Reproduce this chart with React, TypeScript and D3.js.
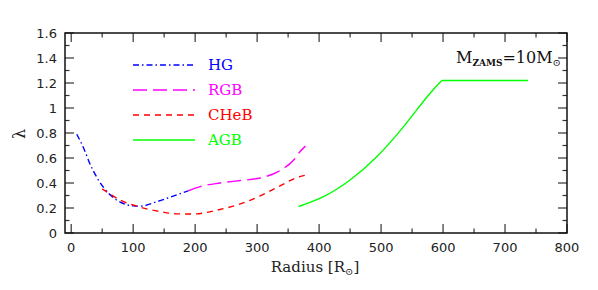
import React, {useEffect} from "react"
import * as d3 from "d3"

// curves: radius [Rsun] and lambda
const hgR = [9, 20, 31, 42, 53, 63, 82, 100, 112, 138, 160, 189]
const hgL = [0.79, 0.68, 0.545, 0.44, 0.36, 0.305, 0.24, 0.217, 0.215, 0.25, 0.287, 0.338]

const rgbR = [189, 208, 240, 273, 305, 337, 359, 369, 378]
const rgbL = [0.338, 0.371, 0.40, 0.42, 0.44, 0.50, 0.584, 0.65, 0.695]

const cheR = [50, 82, 111, 143, 170, 197, 240, 273, 305, 337, 364, 380]
const cheL = [0.353, 0.257, 0.207, 0.172, 0.153, 0.152, 0.188, 0.233, 0.297, 0.377, 0.443, 0.464]

const agbR = [367, 407, 450, 493, 536, 574, 598, 737]
const agbL = [0.212, 0.291, 0.424, 0.61, 0.849, 1.088, 1.22, 1.22]

const xMajor = [0, 100, 200, 300, 400, 500, 600, 700, 800]
const xMinor = [50, 150, 250, 350, 450, 550, 650, 750]
const yMajor = [0, 0.2, 0.4, 0.6, 0.8, 1, 1.2, 1.4, 1.6]
const yMinor = [0.1, 0.3, 0.5, 0.7, 0.9, 1.1, 1.3, 1.5]

const series = [
    {name: "HG", color: "#0000ff", dash: "6,3,1.5,3", r: hgR, l: hgL},
    {name: "RGB", color: "#ff00ff", dash: "14,6", r: rgbR, l: rgbL},
    {name: "CHeB", color: "#ff0000", dash: "6,5", r: cheR, l: cheL},
    {name: "AGB", color: "#00ff00", dash: "none", r: agbR, l: agbL},
]

const W = 598
const H = 290
const margin = {top: 33, right: 31, bottom: 57, left: 65}

const App = () => {
    useEffect(() => {
        document.body.style.margin = "0"
    }, [])

    const x = d3.scaleLinear().domain([-10, 800]).range([margin.left, W - margin.right])
    const y = d3.scaleLinear().domain([0, 1.6]).range([H - margin.bottom, margin.top])
    const x0 = margin.left, x1 = W - margin.right, y0 = H - margin.bottom, y1 = margin.top

    const line = d3.line<[number, number]>()
        .x(d => x(d[0]))
        .y(d => y(d[1]))
        .curve(d3.curveMonotoneX)
    const smooth = line.curve(d3.curveNatural)
    const straight = d3.line<[number, number]>().x(d => x(d[0])).y(d => y(d[1]))

    const paths: React.ReactNode[] = []
    series.forEach(s => {
        const pts: [number, number][] = s.r.map((r, i) => [r, s.l[i]])
        if (s.name === "AGB") {
            // rising part is smooth, the plateau is a straight segment
            const k = pts.findIndex(p => p[0] === 598)
            paths.push(<path key="agb1" d={smooth(pts.slice(0, k + 1)) || ""} fill="none"
                             stroke={s.color} strokeWidth={1.4}/>)
            paths.push(<path key="agb2" d={straight(pts.slice(k)) || ""}
                             fill="none" stroke={s.color} strokeWidth={1.4}/>)
        } else {
            paths.push(<path key={s.name} d={d3.line<[number, number]>().x(d => x(d[0])).y(d => y(d[1]))
                .curve(d3.curveMonotoneX)(pts) || ""} fill="none" stroke={s.color}
                             strokeWidth={1.4} strokeDasharray={s.dash}/>)
        }
    })

    const tickFont = {fontFamily: "DejaVu Sans", fontSize: 13, fill: "#222"}
    const serif = "DejaVu Serif"

    return (
        <svg width={W} height={H} style={{position: "absolute", left: 0, top: 0}}>
            <rect width={W} height={H} fill="#fff"/>
            {paths}
            <g stroke="#333" strokeWidth={1.2}>
                {xMajor.map(v => (
                    <g key={"xM" + v}>
                        <line x1={x(v)} x2={x(v)} y1={y0} y2={y0 - 9}/>
                        <line x1={x(v)} x2={x(v)} y1={y1} y2={y1 + 9}/>
                    </g>
                ))}
                {xMinor.map(v => (
                    <g key={"xm" + v}>
                        <line x1={x(v)} x2={x(v)} y1={y0} y2={y0 - 4.5}/>
                        <line x1={x(v)} x2={x(v)} y1={y1} y2={y1 + 4.5}/>
                    </g>
                ))}
                {yMajor.map(v => (
                    <g key={"yM" + v}>
                        <line x1={x0} x2={x0 + 9} y1={y(v)} y2={y(v)}/>
                        <line x1={x1} x2={x1 - 9} y1={y(v)} y2={y(v)}/>
                    </g>
                ))}
                {yMinor.map(v => (
                    <g key={"ym" + v}>
                        <line x1={x0} x2={x0 + 4.5} y1={y(v)} y2={y(v)}/>
                        <line x1={x1} x2={x1 - 4.5} y1={y(v)} y2={y(v)}/>
                    </g>
                ))}
            </g>
            <rect x={x0} y={y1} width={x1 - x0} height={y0 - y1} fill="none" stroke="#111" strokeWidth={1.5}/>
            {xMajor.map(v => (
                <text key={"xl" + v} x={x(v)} y={y0 + 18.5} textAnchor="middle" {...tickFont}>{v}</text>
            ))}
            {yMajor.map(v => (
                <text key={"yl" + v} x={x0 - 8} y={y(v) + 4.5} textAnchor="end" {...tickFont}>{String(v)}</text>
            ))}
            <text x={315} y={272} textAnchor="middle" fontFamily={serif} fontSize={15} fill="#222">
                Radius [R<tspan fontSize={10} dy={3}>⊙</tspan><tspan dy={-3}>]</tspan>
            </text>
            <text transform="translate(25,134) rotate(-90)" textAnchor="middle" fontFamily={serif}
                  fontSize={16} fill="#222">λ</text>
            {series.map((s, i) => (
                <g key={"lg" + s.name}>
                    <line x1={133} x2={195} y1={65 + i * 25} y2={65 + i * 25} stroke={s.color}
                          strokeWidth={1.4} strokeDasharray={s.dash}/>
                    <text x={208} y={70 + i * 25} fontFamily={serif} fontSize={15} fill={s.color}>{s.name}</text>
                </g>
            ))}
            <text x={456} y={63} fontFamily={serif} fontSize={16} fill="#111">
                M<tspan fontSize={9} fontWeight="bold" dy={3}>ZAMS</tspan><tspan dy={-3}>=10M</tspan>
                <tspan fontSize={10} dy={3}>⊙</tspan>
            </text>
        </svg>
    )
}

export default App
